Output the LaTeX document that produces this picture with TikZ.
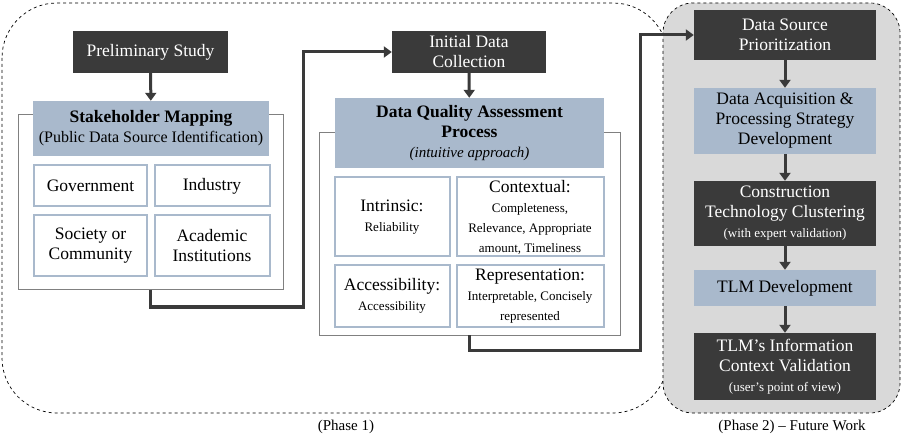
\documentclass[tikz,border=0pt]{standalone}
\usepackage{fontspec}
\setmainfont{Liberation Serif}
\usetikzlibrary{arrows.meta}
\definecolor{dk}{HTML}{3A3A3A}
\definecolor{bl}{HTML}{A9B9CC}
\definecolor{gr}{HTML}{D9D9D9}
\newcommand{\smf}{\fontsize{13}{15}\selectfont}
\begin{document}
\begin{tikzpicture}[x=1pt,y=-1pt,
 box/.style={draw=none,inner sep=0,align=center,font=\fontsize{17.5}{20}\selectfont},
 dark/.style={box,fill=dk,text=white},
 head/.style={box,fill=bl},
 cell/.style={box,draw=bl,line width=2pt,fill=white},
 frame/.style={draw=gray,line width=1pt},
 arr/.style={draw=dk,line width=3pt,-{Triangle[length=8pt,width=11pt]}},
 lab/.style={font=\fontsize{15}{16}\selectfont}]
\useasboundingbox (0,0) rectangle (902,438);
\draw[dashed,line width=0.7pt,rounded corners=55] (2,3) rectangle (668,413);
\draw[dashed,line width=0.7pt,fill=gr,rounded corners=30] (663,3) rectangle (900,413);
% left block
\draw[frame] (18,115) rectangle (283,290);
\node[dark,minimum width=155,minimum height=42] (ps) at (150.5,52) {Preliminary Study};
\node[head,minimum width=236,minimum height=55] (sm) at (151,128.5) {\textbf{Stakeholder Mapping}\\\fontsize{16}{18}\selectfont(Public Data Source Identification)};
\node[cell,minimum width=113,minimum height=41] (g) at (90.5,186) {Government};
\node[cell,minimum width=115,minimum height=41] (i) at (212,186) {Industry};
\node[cell,minimum width=113,minimum height=61] (s) at (90.5,246) {Society or\\Community};
\node[cell,minimum width=115,minimum height=61] (a) at (212,246) {Academic\\Institutions};
\coordinate (f1) at (150,290);
\draw[arr] (ps) -- (sm);
% middle block
\draw[frame] (319,133) rectangle (620,335);
\node[dark,minimum width=154,minimum height=42] (idc) at (469,52) {Initial Data\\Collection};
\node[head,minimum width=269,minimum height=70] (dqa) at (469.5,133) {\textbf{Data Quality Assessment}\\\textbf{Process}\\\fontsize{15}{17}\selectfont\itshape (intuitive approach)};
\node[cell,minimum width=115,minimum height=79] (in) at (392,217) {Intrinsic:\\\smf Reliability};
\node[cell,minimum width=147,minimum height=79] (co) at (530,217) {Contextual:\\\smf Completeness,\\\smf Relevance, Appropriate\\\smf amount, Timeliness};
\node[cell,minimum width=115,minimum height=61] (ac) at (392,296) {Accessibility:\\\smf Accessibility};
\node[cell,minimum width=147,minimum height=61] (re) at (530,296) {Representation:\\\smf Interpretable, Concisely\\\smf represented};
\coordinate (f2) at (469,335);
\draw[arr] (idc) -- (dqa);
% right column
\node[dark,minimum width=182,minimum height=50] (r1) at (785,35) {Data Source\\Prioritization};
\node[head,minimum width=182,minimum height=66] (r2) at (785,121) {Data Acquisition \&\\Processing Strategy\\Development};
\node[dark,minimum width=182,minimum height=65] (r3) at (785,213.5) {Construction\\Technology Clustering\\\smf (with expert validation)};
\node[head,minimum width=182,minimum height=36] (r4) at (785,288) {TLM Development};
\node[dark,minimum width=182,minimum height=67] (r5) at (785,366.5) {TLM’s Information\\Context Validation\\\smf (user’s point of view)};
\draw[arr] (r1) -- (r2);
\draw[arr] (r2) -- (r3);
\draw[arr] (r3) -- (r4);
\draw[arr] (r4) -- (r5);
% connectors
\draw[arr] (f1) |- (303,307) |- (idc.west);
\draw[arr] (f2) |- (640,350) |- (r1.west);
\node[lab] (p1) at (346,427) {(Phase 1)};
\node[lab] (p2) at (792,427) {(Phase 2) – Future Work};
\end{tikzpicture}
\end{document}
